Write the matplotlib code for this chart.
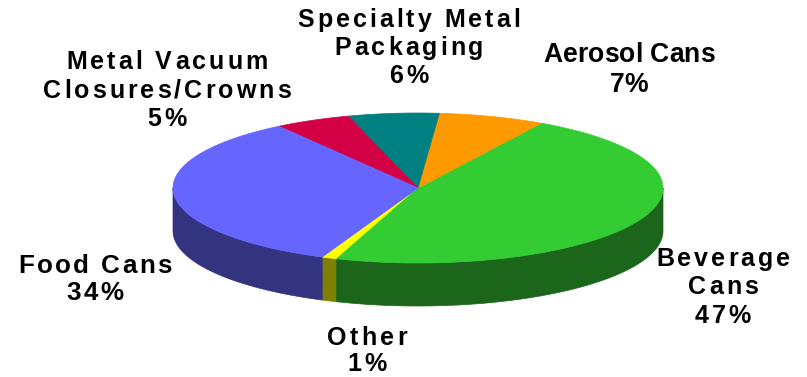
import numpy as np
import matplotlib
matplotlib.use('Agg')
from matplotlib import pyplot as plt
from matplotlib.patches import Polygon
from matplotlib.font_manager import FontProperties, findfont, get_font

# data
names = ['Other', 'Beverage Cans', 'Aerosol Cans', 'Specialty Metal Packaging',
         'Metal Vacuum Closures/Crowns', 'Food Cans']
values = [1, 47, 7, 6, 5, 34]
label_lines = [['Other', '1%'],
               ['Beverage', 'Cans', '47%'],
               ['Aerosol Cans', '7%'],
               ['Specialty Metal', 'Packaging', '6%'],
               ['Metal Vacuum', 'Closures/Crowns', '5%'],
               ['Food Cans', '34%']]

top_colors = ['#FFFF00', '#33CC33', '#FF9900', '#008080', '#D40046', '#6666FF']
side_colors = ['#808000', '#1B661B', '#804C00', '#004040', '#6A0023', '#333380']

# layout (pixel space)
cx, cy, rx, ry, depth = 418, 188, 245, 75, 43
start_angle = 247
# first line centre x, first baseline y, font px, letter spacing (em), line gap
label_pos = [(367, 345, 25, 0.13, 26),
             (723, 266, 25, 0.12, 28.5),
             (629, 62, 26.5, 0.0, 30),
             (409, 27, 25, 0.12, 28),
             (167, 69, 25, 0.12, 28.5),
             (95, 273, 26, 0.09, 27)]

fig = plt.figure(figsize=(8.07, 3.77), dpi=100)
ax = fig.add_axes([0, 0, 1, 1])
ax.set_xlim(0, 807)
ax.set_ylim(377, 0)
ax.axis('off')

def arc(a, b, dy=0):
    t = np.radians(np.linspace(a, b, max(int(abs(b - a)), 2) + 1))
    return np.column_stack([cx + rx * np.cos(t), cy - ry * np.sin(t) + dy])

edges = start_angle + np.concatenate([[0], np.cumsum(values)]) * 3.6

# side walls (front half only)
for i in range(len(values)):
    a1, a2 = edges[i], edges[i + 1]
    for k in range(-1, 3):
        lo = max(a1, 180 + 360 * k)
        hi = min(a2, 360 + 360 * k)
        if hi > lo:
            pts = np.vstack([arc(lo, hi), arc(lo, hi, depth)[::-1]])
            ax.add_patch(Polygon(pts, closed=True, facecolor=side_colors[i],
                                 edgecolor=side_colors[i], lw=0.5))

# top face
for i in range(len(values)):
    pts = np.vstack([[cx, cy], arc(edges[i], edges[i + 1])])
    ax.add_patch(Polygon(pts, closed=True, facecolor=top_colors[i],
                         edgecolor=top_colors[i], lw=0.5))

# labels with letter spacing
fp = FontProperties(family='Liberation Sans', weight='bold')
font = get_font(findfont(fp))

def adv(ch, px):
    font.set_size(px, 72)
    g = font.load_char(ord(ch))
    return g.linearHoriAdvance / 65536

def spaced(xc, yb, s, px, track):
    w = [adv(c, px) for c in s]
    total = sum(w) + track * px * (len(s) - 1)
    x = xc - total / 2
    for c, cw in zip(s, w):
        ax.text(x, yb, c, fontproperties=fp, fontsize=px * 0.72,
                ha='left', va='baseline', color='black')
        x += cw + track * px

for lines, (xc, yb, px, track, gap) in zip(label_lines, label_pos):
    for j, line in enumerate(lines):
        spaced(xc, yb + j * gap, line, px, track)

fig.savefig('out.png', dpi=100)
